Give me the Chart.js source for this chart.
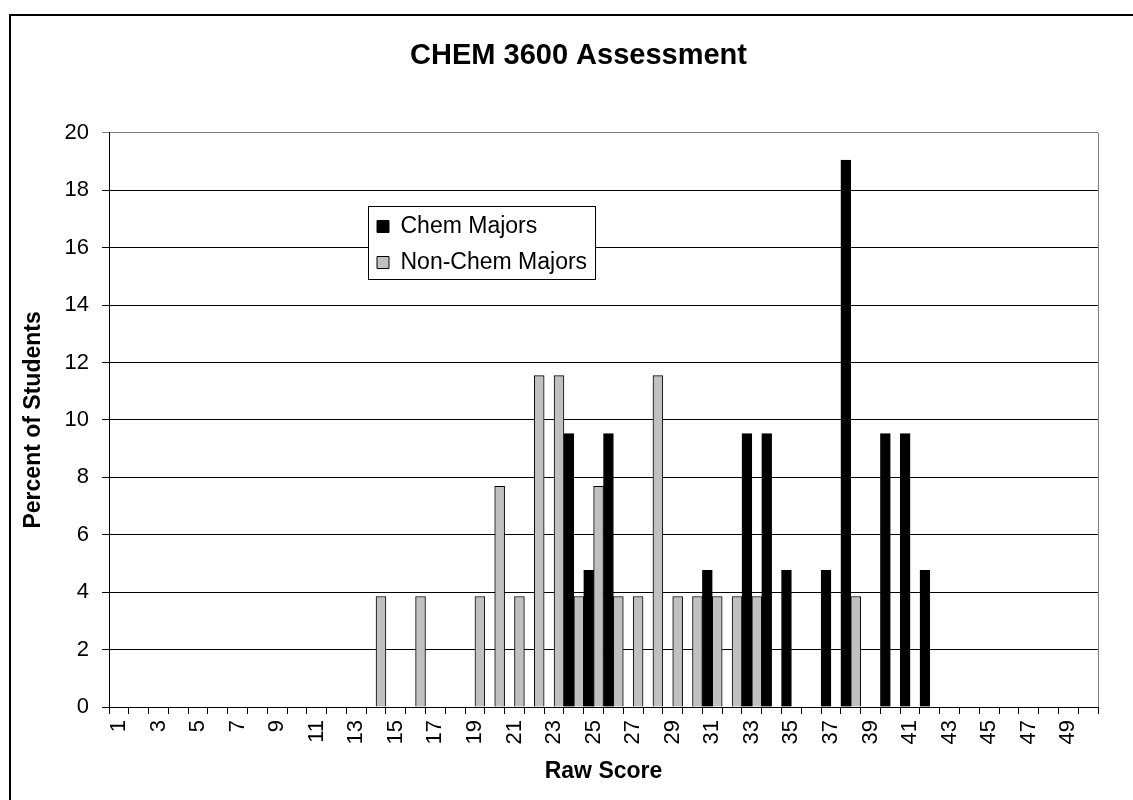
<!DOCTYPE html>
<html>
<head>
<meta charset="utf-8">
<title>CHEM 3600 Assessment</title>
<script src="https://cdn.jsdelivr.net/npm/chart.js@4/dist/chart.umd.min.js"></script>
<style>
  html, body { margin: 0; padding: 0; background: #fff; overflow: hidden; }
  #wrap { width: 1133px; height: 800px; position: relative; }
</style>
</head>
<body>
<div id="wrap"><canvas id="chart" width="1133" height="800"></canvas></div>
<script>
// Raw score categories (x axis)
const scores = ['1', '2', '3', '4', '5', '6', '7', '8', '9', '10',
  '11', '12', '13', '14', '15', '16', '17', '18', '19', '20',
  '21', '22', '23', '24', '25', '26', '27', '28', '29', '30',
  '31', '32', '33', '34', '35', '36', '37', '38', '39', '40',
  '41', '42', '43', '44', '45', '46', '47', '48', '49', '50'];

// Percent of students per raw score
const chemMajors = [0, 0, 0, 0, 0, 0, 0, 0, 0, 0,
  0, 0, 0, 0, 0, 0, 0, 0, 0, 0,
  0, 0, 0, 9.52, 4.76, 9.52, 0, 0, 0, 0,
  4.76, 0, 9.52, 9.52, 4.76, 0, 4.76, 19.05, 0, 9.52,
  9.52, 4.76, 0, 0, 0, 0, 0, 0, 0, 0];

const nonChemMajors = [0, 0, 0, 0, 0, 0, 0, 0, 0, 0,
  0, 0, 0, 3.85, 0, 3.85, 0, 0, 3.85, 7.69,
  3.85, 11.54, 11.54, 3.85, 7.69, 3.85, 3.85, 11.54, 3.85, 3.85,
  3.85, 3.85, 3.85, 0, 0, 0, 0, 3.85, 0, 0,
  0, 0, 0, 0, 0, 0, 0, 0, 0, 0];

const seriesNames = ['Chem Majors', 'Non-Chem Majors'];

const FONT = "'Liberation Sans', Arial, sans-serif";

// outer frame, white legend box and plot border (Excel look)
const framePlugin = {
    id: 'frame',
    beforeDraw(chart) {
        const ctx = chart.ctx;
        ctx.save();
        ctx.fillStyle = '#fff';
        ctx.fillRect(0, 0, chart.width, chart.height);
        ctx.strokeStyle = '#000';
        ctx.lineWidth = 2;
        ctx.strokeRect(10, 15, chart.width + 40, chart.height + 40);
        ctx.restore();
    },
    afterLayout(chart) {
        // move legend inside the plot, like the original
        const lg = chart.legend;
        lg.left = 364;
        lg.top = 202;
        lg.right = lg.left + lg.width;
        lg.bottom = lg.top + lg.height;
    },
    afterDraw(chart) {
        const ctx = chart.ctx;
        const area = chart.chartArea;
        ctx.save();
        // right edge of plot area
        ctx.strokeStyle = '#808080';
        ctx.lineWidth = 1;
        ctx.beginPath();
        ctx.moveTo(Math.round(area.right) + 0.5, area.top);
        ctx.lineTo(Math.round(area.right) + 0.5, area.bottom);
        ctx.stroke();
        // legend box
        ctx.fillStyle = '#fff';
        ctx.fillRect(368, 206, 227, 73);
        ctx.strokeStyle = '#000';
        ctx.strokeRect(368.5, 206.5, 227, 73);
        ctx.restore();
        chart.legend.draw();
    }
};

new Chart(document.getElementById('chart').getContext('2d'), {
    type: 'bar',
    data: {
        labels: scores,
        datasets: [
            {
                label: seriesNames[0],
                data: chemMajors,
                backgroundColor: '#000000',
                borderColor: '#000000',
                borderWidth: 1,
                categoryPercentage: 1.0,
                barPercentage: 1.0
            },
            {
                label: seriesNames[1],
                data: nonChemMajors,
                backgroundColor: '#c0c0c0',
                borderColor: '#000000',
                borderWidth: 1,
                categoryPercentage: 1.0,
                barPercentage: 1.0
            }
        ]
    },
    options: {
        responsive: false,
        animation: false,
        devicePixelRatio: 1,
        layout: {
            padding: { left: 24, right: 0, top: 0, bottom: 0 }
        },
        plugins: {
            title: {
                display: true,
                text: 'CHEM 3600 Assessment',
                color: '#000',
                font: { family: FONT, size: 29, weight: 'bold', lineHeight: 1.2 },
                padding: { top: 39, bottom: 59 }
            },
            legend: {
                position: 'chartArea',
                align: 'start',
                labels: {
                    color: '#000',
                    font: { family: FONT, size: 23 },
                    boxWidth: 12,
                    boxHeight: 12,
                    padding: 13
                }
            },
            tooltip: { enabled: false }
        },
        scales: {
            x: {
                offset: true,
                grid: {
                    display: true,
                    offset: true,
                    drawOnChartArea: false,
                    drawTicks: true,
                    tickLength: 7,
                    color: '#000'
                },
                border: { display: true, color: '#000', width: 1 },
                ticks: {
                    autoSkip: false,
                    minRotation: 90,
                    maxRotation: 90,
                    padding: 6,
                    color: '#000',
                    font: { family: FONT, size: 22 },
                    // only every other score is labelled
                    callback: function(value, index) {
                        return index % 2 === 0 ? scores[index] : '';
                    }
                },
                title: {
                    display: true,
                    text: 'Raw Score',
                    color: '#000',
                    font: { family: FONT, size: 23, weight: 'bold', lineHeight: 1.2 },
                    padding: { top: 0, bottom: 15 }
                },
                afterFit: function(scale) {
                    scale.height = 93;
                    scale.paddingRight = 35;
                }
            },
            y: {
                min: 0,
                max: 20,
                grid: {
                    drawTicks: true,
                    tickLength: 7,
                    color: ctx => (ctx.tick && ctx.tick.value === 20 ? '#808080' : '#000')
                },
                border: { display: true, color: '#000', width: 1 },
                ticks: {
                    stepSize: 2,
                    padding: 13,
                    color: '#000',
                    font: { family: FONT, size: 22 }
                },
                title: {
                    display: true,
                    text: 'Percent of Students',
                    color: '#000',
                    font: { family: FONT, size: 23, weight: 'bold', lineHeight: 0.8 },
                    padding: { top: 0, bottom: 0 }
                },
                afterFit: function(scale) {
                    scale.width = 85;
                }
            }
        }
    },
    plugins: [framePlugin]
});
</script>
</body>
</html>
